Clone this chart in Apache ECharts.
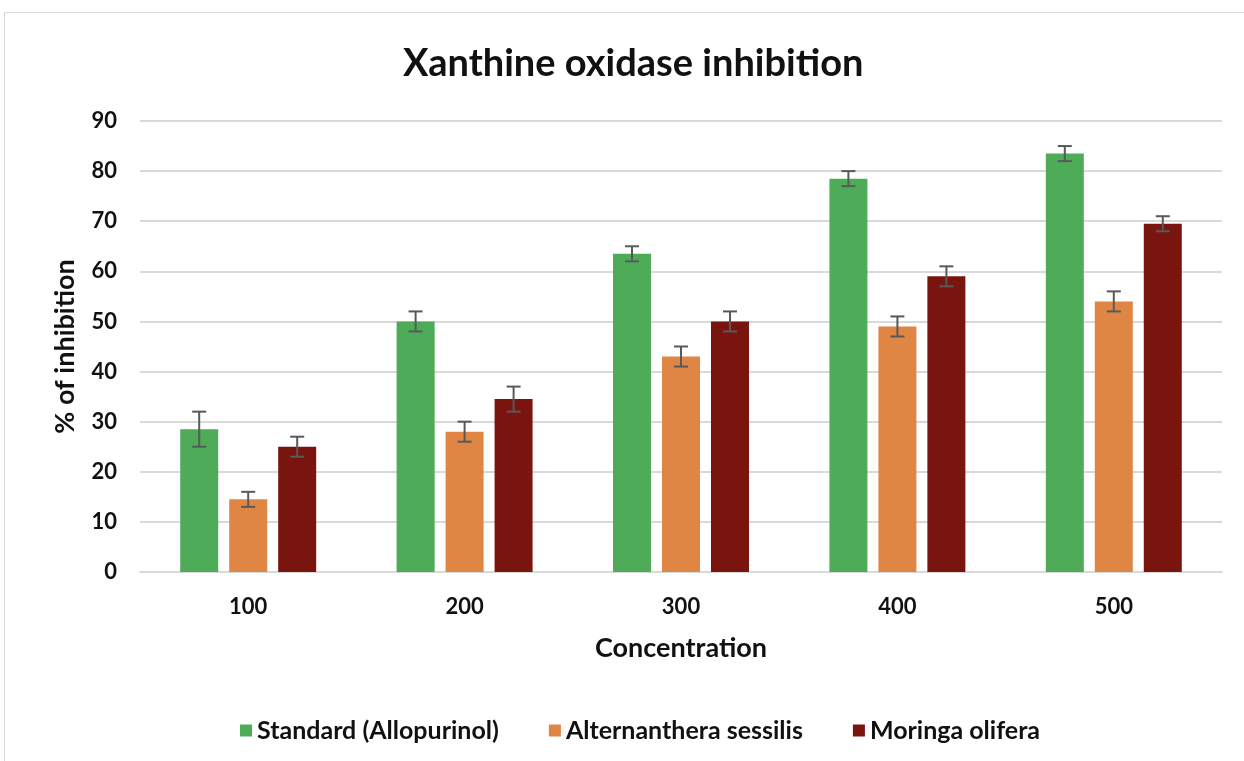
<!DOCTYPE html>
<html>
<head>
<meta charset="utf-8">
<script src="https://cdn.jsdelivr.net/npm/echarts@6/dist/echarts.min.js"></script>
<style>
html,body{margin:0;padding:0;background:#fff;}
#frame{position:absolute;left:4px;top:12px;width:1250px;height:760px;border:1px solid #d9d9d9;box-sizing:border-box;}
#chart{position:absolute;left:0;top:0;width:1244px;height:761px;}
</style>
</head>
<body>
<div id="frame"></div>
<div id="chart"></div>
<script>
const categories = ['100', '200', '300', '400', '500'];
const seriesNames = ['Standard (Allopurinol)', 'Alternanthera sessilis', 'Moringa olifera'];
const standardValues = [28.5, 50, 63.5, 78.5, 83.5];
const alternantheraValues = [14.5, 28, 43, 49, 54];
const moringaValues = [25, 34.5, 50, 59, 69.5];
const standardErrors = [3.5, 2, 1.5, 1.5, 1.5];
const alternantheraErrors = [1.5, 2, 2, 2, 2];
const moringaErrors = [2, 2.5, 2, 2, 1.5];
const yTicks = [0, 10, 20, 30, 40, 50, 60, 70, 80, 90];

const colors = ['#4EAB58', '#E08644', '#7A140F'];
const allValues = [standardValues, alternantheraValues, moringaValues];
const allErrors = [standardErrors, alternantheraErrors, moringaErrors];
const BAR_W = 38;
const GAP = 11;
const FONT = 'Lato';

const chart = echarts.init(document.getElementById('chart'));

const barSeries = allValues.map((vals, i) => ({
  name: seriesNames[i],
  type: 'bar',
  data: vals,
  barWidth: BAR_W,
  barGap: (GAP / BAR_W * 100).toFixed(1) + '%',
  itemStyle: { color: colors[i] },
  z: 2
}));

const errSeries = allValues.map((vals, i) => ({
  type: 'custom',
  name: seriesNames[i] + ' err',
  data: vals.map((v, j) => [j, v, allErrors[i][j]]),
  z: 5,
  silent: true,
  tooltip: { show: false },
  renderItem: function (params, api) {
    const idx = api.value(0);
    const v = api.value(1);
    const e = api.value(2);
    const off = (i - 1) * (BAR_W + GAP);
    const top = api.coord([idx, v + e]);
    const bot = api.coord([idx, v - e]);
    const x = top[0] + off;
    const cap = 7;
    const style = { stroke: '#595959', lineWidth: 2 };
    return {
      type: 'group',
      children: [
        { type: 'line', shape: { x1: x, y1: top[1], x2: x, y2: bot[1] }, style },
        { type: 'line', shape: { x1: x - cap, y1: top[1], x2: x + cap, y2: top[1] }, style },
        { type: 'line', shape: { x1: x - cap, y1: bot[1], x2: x + cap, y2: bot[1] }, style }
      ]
    };
  }
}));

chart.setOption({
  animation: false,
  title: {
    text: 'Xanthine oxidase inhibition',
    left: 398,
    top: 40,
    textStyle: { fontFamily: FONT, fontWeight: 'bold', fontSize: 38, color: '#111' }
  },
  legend: {
    data: seriesNames.map((n, i) => ({ name: n, itemStyle: { color: colors[i] } })),
    top: 713,
    left: 235,
    itemWidth: 12,
    itemHeight: 12,
    itemGap: 50,
    icon: 'rect',
    textStyle: { fontFamily: FONT, fontWeight: 'bold', fontSize: 25, color: '#111' }
  },
  grid: { left: 140, right: 22, top: 121, bottom: 189 },
  xAxis: {
    type: 'category',
    data: categories,
    name: 'Concentration',
    nameLocation: 'middle',
    nameGap: 63,
    nameTextStyle: { fontFamily: FONT, fontWeight: 'bold', fontSize: 27, color: '#111' },
    axisLine: { lineStyle: { color: '#d9d9d9', width: 2 } },
    axisTick: { show: false },
    axisLabel: { fontFamily: FONT, fontWeight: 'bold', fontSize: 22, color: '#111', margin: 24 }
  },
  yAxis: {
    type: 'value',
    min: 0,
    max: 90,
    interval: 10,
    name: '% of inhibition',
    nameLocation: 'middle',
    nameGap: 61,
    nameTextStyle: { fontFamily: FONT, fontWeight: 'bold', fontSize: 27, color: '#111' },
    axisLine: { show: false },
    axisTick: { show: false },
    splitLine: { lineStyle: { color: '#d9d9d9', width: 2 } },
    axisLabel: {
      fontFamily: FONT, fontWeight: 'bold', fontSize: 22, color: '#111', margin: 23,
      formatter: v => (yTicks.indexOf(v) >= 0 ? String(v) : '')
    }
  },
  series: barSeries.concat(errSeries)
});
</script>
</body>
</html>
